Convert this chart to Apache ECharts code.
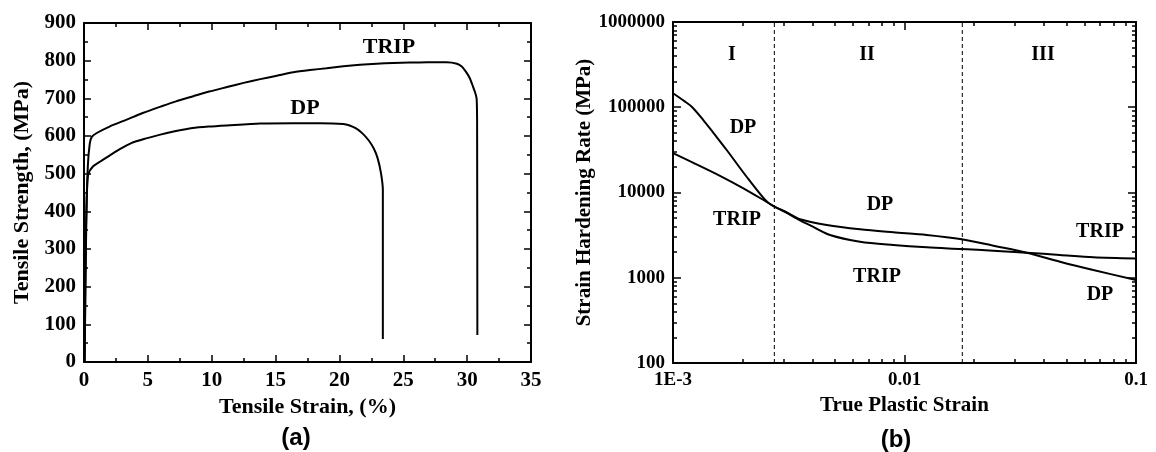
<!DOCTYPE html>
<html>
<head>
<meta charset="utf-8">
<title>DP / TRIP</title>
<script src="https://cdn.jsdelivr.net/npm/echarts@6/dist/echarts.min.js"></script>
<style>
  html, body { margin: 0; padding: 0; background: #fff; }
  #chart { width: 1156px; height: 452px; }
</style>
</head>
<body>
<div id="chart"></div>
<script>
// (a) engineering stress-strain
const tripStrain = [0.05, 0.15, 0.3, 0.45, 0.6, 1.0, 2.0, 3.3, 4.6, 6.0, 7.2, 8.5, 9.8, 11.2, 12.5, 13.8, 15.1, 16.4, 17.7, 19.0, 20.3, 21.6, 22.9, 24.2, 25.5, 26.9, 28.4, 29.2, 29.6, 29.9, 30.2, 30.45, 30.62, 30.74, 30.78, 30.8];
const tripStress = [0, 350, 520, 580, 597, 608, 625, 643, 661, 678, 692, 705, 718, 730, 741, 751, 760, 769, 775, 780, 785, 789, 792, 794, 795, 796, 796, 792, 784, 771, 754, 732, 716, 700, 640, 72];
const dpStrain = [0.05, 0.15, 0.25, 0.35, 0.7, 1.3, 2.0, 2.8, 3.7, 4.8, 5.9, 7.2, 8.5, 9.8, 11.2, 13.8, 16.4, 18.5, 20.3, 20.8, 21.3, 21.8, 22.3, 22.7, 23.0, 23.25, 23.4, 23.4];
const dpStress = [0, 300, 470, 500, 519, 533, 548, 565, 581, 593, 603, 613, 621, 625, 628, 633, 634, 634, 632, 628, 620, 607, 588, 566, 540, 502, 457, 61];

// (b) strain hardening rate
const dpTrue = [0.001, 0.00112, 0.001205, 0.001352, 0.0015, 0.001706, 0.00208, 0.00249, 0.002668, 0.0031, 0.003537, 0.004613, 0.006424, 0.008947, 0.012474, 0.017666, 0.024185, 0.03372, 0.04695, 0.06539, 0.1];
const dpRate = [146000, 118000, 101400, 70800, 49400, 31500, 15300, 8300, 7134, 5850, 4848, 4157, 3698, 3412, 3174, 2824, 2377, 1969, 1543, 1233, 940];
const tripTrue = [0.001, 0.001225, 0.001596, 0.002014, 0.00249, 0.002668, 0.0031, 0.003537, 0.004, 0.004766, 0.006424, 0.008947, 0.012474, 0.017666, 0.024185, 0.03372, 0.04695, 0.06539, 0.1];
const tripRate = [28900, 22300, 15700, 11200, 8000, 7134, 5750, 4700, 4000, 3174, 2648, 2423, 2274, 2174, 2078, 1969, 1849, 1736, 1680];
const stageBounds = [0.00274, 0.01777];

const rateTickLabels = { 2: '100', 3: '1000', 4: '10000', 5: '100000', 6: '1000000' };
const strainTickLabels = { '-3': '1E-3', '-2': '0.01', '-1': '0.1' };
const rateMinor = [];
for (let p = 2; p < 6; p++) for (let m = 2; m < 10; m++) rateMinor.push(m * Math.pow(10, p));
const strainMinor = [];
for (let p = -3; p < -1; p++) for (let m = 2; m < 10; m++) strainMinor.push(m * Math.pow(10, p));

const serif = '"Liberation Serif", "Times New Roman", serif';
const black = '#000';

function pair(arrX, arrY) {
  return arrX.map((x, i) => [x, arrY[i]]);
}

function valueAxis(grid, pos, min, max, interval, opts) {
  return {
    gridIndex: grid, type: 'value', position: pos, min: min, max: max, interval: interval,
    name: opts.name || '', nameLocation: 'middle', nameGap: opts.nameGap || 0,
    nameTextStyle: { fontFamily: serif, fontWeight: 'bold', fontSize: 22, color: black },
    axisLine: { show: true, onZero: false, lineStyle: { color: black, width: 2 } },
    axisTick: { show: true, inside: true, length: 7, lineStyle: { color: black, width: 1.5 } },
    minorTick: { show: true, splitNumber: 2, length: 4, lineStyle: { color: black, width: 1.5 } },
    axisLabel: { show: opts.labels, margin: 8, fontFamily: serif, fontWeight: 'bold', fontSize: 21, color: black },
    splitLine: { show: false }
  };
}

function logAxis(grid, pos, min, max, opts) {
  return {
    gridIndex: grid, type: 'log', logBase: 10, position: pos, min: min, max: max,
    name: opts.name || '', nameLocation: 'middle', nameGap: opts.nameGap || 0,
    nameTextStyle: { fontFamily: serif, fontWeight: 'bold', fontSize: 21, color: black },
    axisLine: { show: !opts.minor, onZero: false, lineStyle: { color: black, width: 2 } },
    axisTick: {
      show: true, inside: true, length: opts.minor ? 4 : 8,
      customValues: opts.minor || undefined,
      lineStyle: { color: black, width: 1.5 }
    },
    axisLabel: {
      show: !!opts.formatter, margin: 8, formatter: opts.formatter,
      fontFamily: serif, fontWeight: 'bold', fontSize: 19, color: black
    },
    splitLine: { show: false }
  };
}

function lineSeries(x, y, data, extra) {
  return Object.assign({
    type: 'line', xAxisIndex: x, yAxisIndex: y, data: data,
    showSymbol: false, symbol: 'none', smooth: 0.25,
    lineStyle: { color: black, width: 2 }
  }, extra || {});
}

function label(text, x, y, size, family) {
  return {
    type: 'text', x: x, y: y,
    style: {
      text: text, fill: black, align: 'center', verticalAlign: 'middle',
      font: 'bold ' + size + 'px ' + (family || serif)
    }
  };
}

const chart = echarts.init(document.getElementById('chart'), null, { renderer: 'canvas' });

const fmtRate = v => rateTickLabels[Math.round(Math.log10(v))] || '';
const fmtStrain = v => strainTickLabels[Math.round(Math.log10(v))] || '';

// stage boundaries as plain dashed two-point lines on the log grid
const boundSeries = stageBounds.map(v => lineSeries(2, 2, [[v, 100], [v, 1000000]], {
  smooth: false,
  lineStyle: { color: black, width: 1, type: [4, 3] }
}));

const option = {
  animation: false,
  backgroundColor: '#fff',
  grid: [
    { left: 84, top: 23, width: 447, height: 339 },
    { left: 673, top: 22, width: 463, height: 341 }
  ],
  xAxis: [
    valueAxis(0, 'bottom', 0, 35, 5, { labels: true, name: 'Tensile Strain, (%)', nameGap: 32 }),
    valueAxis(0, 'top', 0, 35, 5, { labels: false }),
    logAxis(1, 'bottom', 0.001, 0.1, { formatter: fmtStrain, name: 'True Plastic Strain', nameGap: 32 }),
    logAxis(1, 'top', 0.001, 0.1, {}),
    logAxis(1, 'bottom', 0.001, 0.1, { minor: strainMinor }),
    logAxis(1, 'top', 0.001, 0.1, { minor: strainMinor })
  ],
  yAxis: [
    valueAxis(0, 'left', 0, 900, 100, { labels: true, name: 'Tensile Strength, (MPa)', nameGap: 51 }),
    valueAxis(0, 'right', 0, 900, 100, { labels: false }),
    logAxis(1, 'left', 100, 1000000, { formatter: fmtRate, name: 'Strain Hardening Rate (MPa)', nameGap: 77 }),
    logAxis(1, 'right', 100, 1000000, {}),
    logAxis(1, 'left', 100, 1000000, { minor: rateMinor }),
    logAxis(1, 'right', 100, 1000000, { minor: rateMinor })
  ],
  series: [
    lineSeries(0, 0, pair(tripStrain, tripStress)),
    lineSeries(0, 0, pair(dpStrain, dpStress)),
    lineSeries(2, 2, pair(dpTrue, dpRate), { smooth: 0.3 }),
    lineSeries(2, 2, pair(tripTrue, tripRate), { smooth: 0.3 })
  ].concat(boundSeries),
  graphic: [
    label('TRIP', 389, 47, 22),
    label('DP', 305, 108, 22),
    label('I', 732, 55, 20),
    label('II', 867, 55, 20),
    label('III', 1043, 55, 20),
    label('DP', 743, 128, 20),
    label('TRIP', 737, 220, 20),
    label('DP', 880, 205, 20),
    label('TRIP', 877, 277, 20),
    label('TRIP', 1100, 232, 20),
    label('DP', 1100, 295, 20),
    label('(a)', 296, 438, 24, '"Liberation Sans", Arial, sans-serif'),
    label('(b)', 896, 440, 24, '"Liberation Sans", Arial, sans-serif')
  ]
};

chart.setOption(option);
</script>
</body>
</html>
